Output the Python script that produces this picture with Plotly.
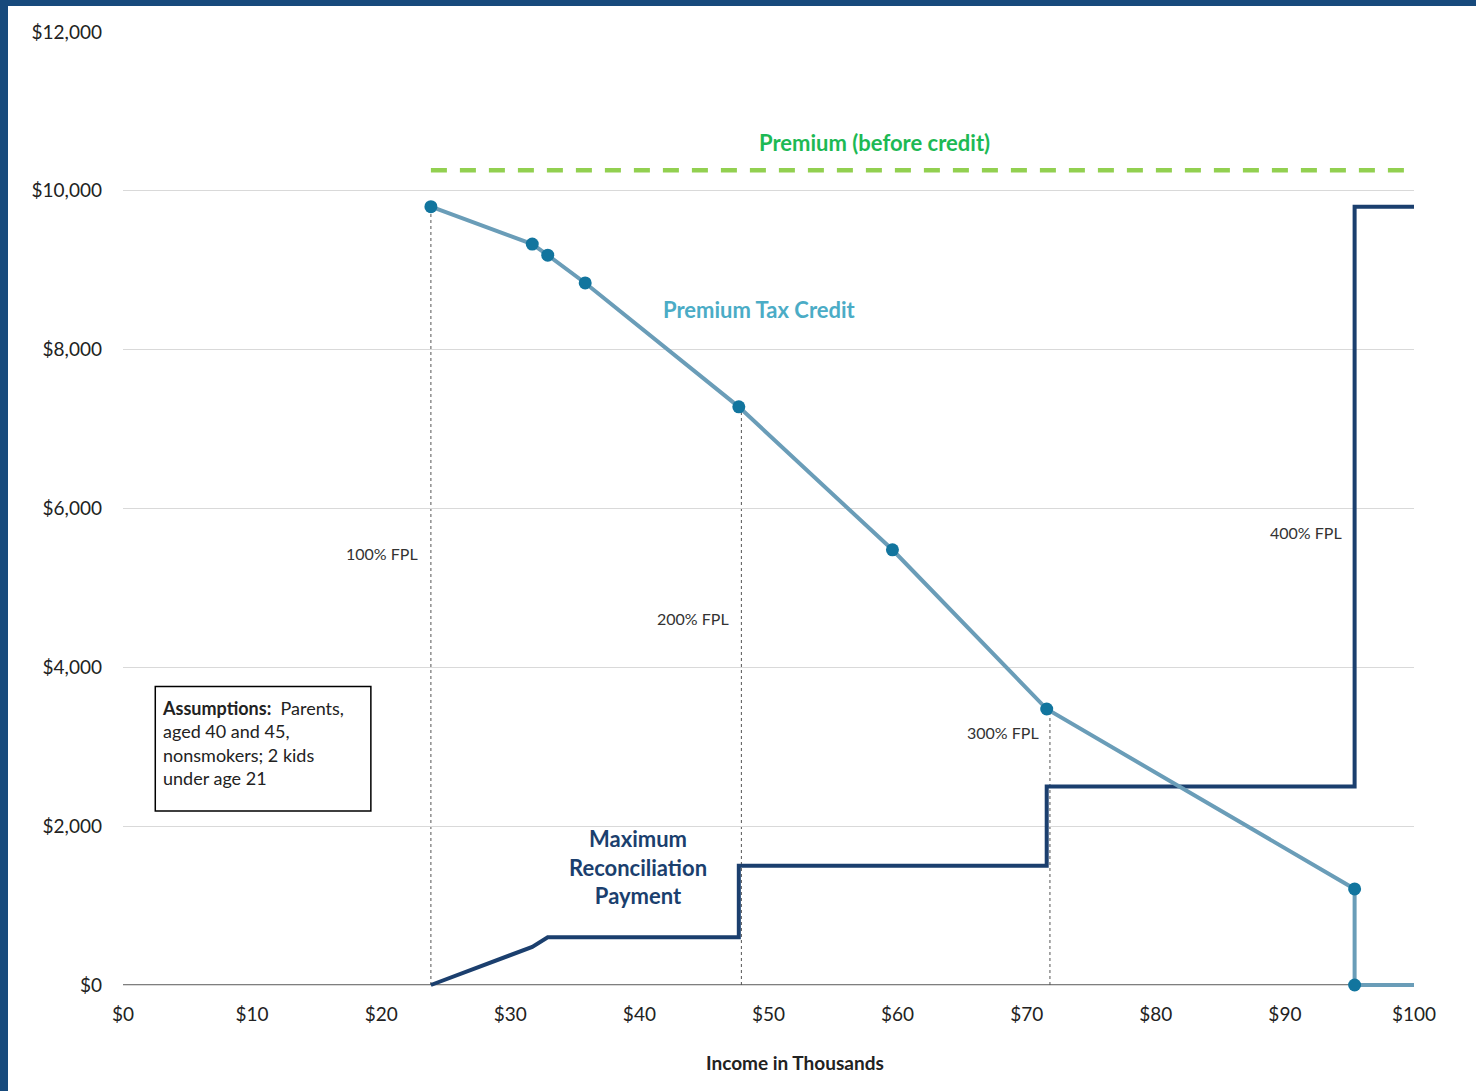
import plotly.graph_objects as go

# ---- data (income in thousands, dollars) ----
ptc_x = [23.85, 31.7, 32.9, 35.8, 47.7, 59.6, 71.55, 95.4, 95.4]
ptc_y = [9800, 9330, 9190, 8840, 7280, 5480, 3475, 1210, 0]
ptc_tail_x = [95.4, 100]
ptc_tail_y = [0, 0]

premium_x = [23.85, 100]
premium_y = [10260, 10260]

recon_x = [23.85, 31.7, 32.9, 47.7, 47.7, 71.55, 71.55, 95.4, 95.4, 100]
recon_y = [0, 480, 600, 600, 1500, 1500, 2500, 2500, 9800, 9800]

fpl_labels = ["100% FPL", "200% FPL", "300% FPL", "400% FPL"]
fpl_x = [23.85, 47.9, 71.8, 95.4]
fpl_top = [9800, 7280, 3475, None]
fpl_label_x = [20.07, 44.17, 68.17, 91.67]
fpl_label_y = [5438, 4618, 3178, 5698]

x_ticks = list(range(0, 101, 10))
x_tick_text = ["$" + str(v) for v in x_ticks]
y_ticks = list(range(0, 12001, 2000))
y_tick_text = ["$" + format(v, ",") for v in y_ticks]

W, H = 1476, 1091
ML, MR, MT, MB = 123, 62, 32, 101
PW, PH = W - ML - MR, H - MT - MB
Y_MIN = -63  # small pad below zero so the baseline line is not clipped

FONT = "Lato"
fig = go.Figure()

# x-axis baseline (below traces)
fig.add_shape(type="line", x0=0, x1=100, y0=0, y1=0, xref="x", yref="y",
              line=dict(color="#000000", width=1.2), layer="below")

# vertical dotted FPL guides
for xv, top in zip(fpl_x, fpl_top):
    if top is None:
        continue
    fig.add_shape(type="line", x0=xv, x1=xv, y0=0, y1=top, xref="x", yref="y",
                  line=dict(color="#555555", width=1, dash="3px,3px"), layer="below")

fig.add_trace(go.Scatter(x=premium_x, y=premium_y, mode="lines",
                         line=dict(color="#92D050", width=4.5, dash="16px,13px"),
                         hoverinfo="skip", showlegend=False))
fig.add_trace(go.Scatter(x=recon_x, y=recon_y, mode="lines",
                         line=dict(color="#1B3F6E", width=4),
                         hoverinfo="skip", showlegend=False))
fig.add_trace(go.Scatter(x=ptc_tail_x, y=ptc_tail_y, mode="lines",
                         line=dict(color="#6A9DB8", width=4),
                         hoverinfo="skip", showlegend=False))
fig.add_trace(go.Scatter(x=ptc_x, y=ptc_y, mode="lines+markers",
                         line=dict(color="#6A9DB8", width=4),
                         marker=dict(color="#12759E", size=13), cliponaxis=False,
                         hoverinfo="skip", showlegend=False))

# FPL labels
for t, xv, yv in zip(fpl_labels, fpl_label_x, fpl_label_y):
    fig.add_annotation(x=xv, y=yv, text=t, showarrow=False,
                       font=dict(family=FONT, size=16, color="#333333"))

fig.add_annotation(x=58.2, y=10605, text="<b>Premium (before credit)</b>", showarrow=False,
                   font=dict(family=FONT, size=22, color="#1DB954"))
fig.add_annotation(x=49.3, y=8500, text="<b>Premium Tax Credit</b>", showarrow=False,
                   font=dict(family=FONT, size=22, color="#4BACC6"))
fig.add_annotation(x=39.9, y=1490,
                   text="<b>Maximum<br>Reconciliation<br>Payment</b>", showarrow=False,
                   font=dict(family=FONT, size=22, color="#1B3F6E"), align="center")

# x-axis title (placed as annotation, slightly right of centre as in the original)
fig.add_annotation(xref="paper", yref="paper", x=(795 - ML) / PW, y=-(1062 - (MT + PH)) / PH,
                   xanchor="center", yanchor="middle", showarrow=False,
                   text="<b>Income in Thousands</b>", font=dict(family=FONT, size=19, color="#222222"))

# Assumptions box
fig.add_shape(type="rect", xref="x", yref="y", x0=2.5, x1=19.2, y0=2190, y1=3760,
              line=dict(color="#000000", width=1.5), fillcolor="white")
fig.add_annotation(x=2.85, y=3650, xanchor="left", yanchor="top", align="left",
                   text="<b>Assumptions:</b>  Parents,<br>aged 40 and 45,<br>nonsmokers; 2 kids<br>under age 21",
                   showarrow=False, font=dict(family=FONT, size=18, color="#222222"))

# page frame (left and top dark-blue border)
fig.add_shape(type="rect", xref="paper", yref="paper",
              x0=(0 - ML) / PW, x1=(8 - ML) / PW, y0=-(H - MT - PH) / PH - 0.01, y1=1 + MT / PH + 0.01,
              line=dict(width=0), fillcolor="#174A7C")
fig.add_shape(type="rect", xref="paper", yref="paper",
              x0=(0 - ML) / PW, x1=(W - ML) / PW, y0=1 + (MT - 6) / PH, y1=1 + MT / PH + 0.01,
              line=dict(width=0), fillcolor="#174A7C")

fig.update_layout(
    width=W, height=H,
    margin=dict(l=ML, r=MR, t=MT, b=MB),
    paper_bgcolor="white", plot_bgcolor="white",
    font=dict(family=FONT, size=19, color="#222222"),
    xaxis=dict(range=[0, 100], tickvals=x_ticks, ticktext=x_tick_text,
               showgrid=False, zeroline=False, showline=False, ticks="",
               ticklabelstandoff=11, layer="below traces"),
    yaxis=dict(range=[Y_MIN, 12000], tickvals=y_ticks, ticktext=y_tick_text,
               showgrid=True, gridcolor="#D9D9D9", gridwidth=1,
               zeroline=False,
               showline=False, ticks="", ticklabelstandoff=20, layer="below traces"),
)

fig.write_html("out.html", config={"displayModeBar": False},
               post_script="document.body.style.margin='0px';document.body.style.padding='0px';")
